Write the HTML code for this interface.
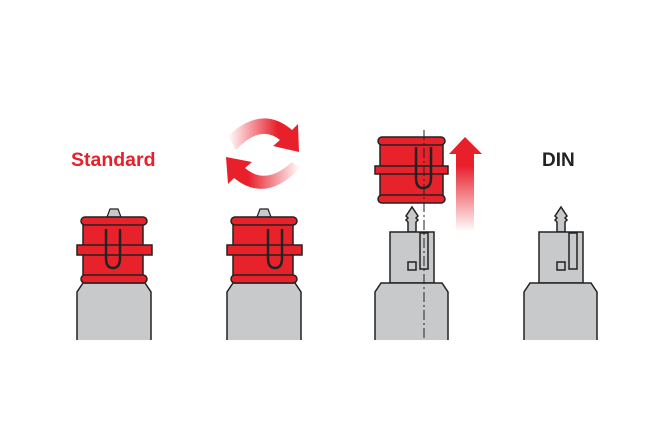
<!DOCTYPE html>
<html><head><style>html,body{margin:0;padding:0;background:#fff}svg{display:block}</style></head>
<body>
<svg width="668" height="445" viewBox="0 0 668 445" xmlns="http://www.w3.org/2000/svg">
<defs>
<linearGradient id="g1" x1="0" y1="0" x2="1" y2="0"><stop offset="0" stop-color="#e8202b" stop-opacity="0"/><stop offset="0.7" stop-color="#e8202b"/></linearGradient>
<linearGradient id="g2" x1="1" y1="0" x2="0" y2="0"><stop offset="0" stop-color="#e8202b" stop-opacity="0"/><stop offset="0.7" stop-color="#e8202b"/></linearGradient>
<linearGradient id="g3" x1="0" y1="1" x2="0" y2="0"><stop offset="0" stop-color="#e8202b" stop-opacity="0"/><stop offset="0.7" stop-color="#e8202b"/></linearGradient>
<g id="cap" stroke="#222" stroke-width="1.5">
<rect x="83" y="222" width="60" height="56" fill="#e8222b"/>
<rect x="81" y="217" width="66" height="8" rx="4" fill="#e8222b"/>
<rect x="77" y="245" width="75" height="10" fill="#e8222b"/>
<rect x="81" y="275" width="66" height="8" rx="4" fill="#e8222b"/>
</g>
<g id="lower" stroke="#222" stroke-width="1.5" fill="#c8c9cb">
<path d="M77 340 V292 L83 283 H145 L151 292 V340"/>
</g>
</defs>
<text x="71" y="166" font-family="Liberation Sans, sans-serif" font-weight="bold" font-size="19.5" fill="#e8202b">Standard</text>
<text x="542" y="166" font-family="Liberation Sans, sans-serif" font-weight="bold" font-size="19" fill="#222">DIN</text>

<!-- fig1 -->
<path d="M107 217 L110 209 L118 209 L121 217Z" fill="#c8c9cb" stroke="#222" stroke-width="1.2"/>
<use href="#lower"/>
<use href="#cap"/>
<path d="M106 229 V258 Q106 268 113 268 Q120 268 120 258 V229" fill="none" stroke="#222" stroke-width="2.5"/>

<!-- fig2 -->
<g transform="translate(150,0)">
<path d="M107 217 L110 209 L118 209 L121 217Z" fill="#c8c9cb" stroke="#222" stroke-width="1.2"/>
<use href="#lower"/>
<use href="#cap"/>
<path d="M118 229 V258 Q118 268 125 268 Q132 268 132 258 V229" fill="none" stroke="#222" stroke-width="2.5"/>
</g>

<!-- rotate arrows -->
<path d="M228 136 Q262 104 292 130 L298 124 L299 152 L273 146 L280 140 Q260 124 236 150Z" fill="url(#g1)"/>
<path d="M300 168 Q266 204 234 178 L228 184 L226 157 L252 162 L245 168 Q266 186 292 162Z" fill="url(#g2)"/>

<!-- fig3 -->
<g stroke="#222" stroke-width="1.5">
<rect x="380" y="142" width="63" height="56" fill="#e8222b"/>
<rect x="378" y="137" width="67" height="8" rx="4" fill="#e8222b"/>
<rect x="375" y="166" width="73" height="8" fill="#e8222b"/>
<rect x="378" y="195" width="67" height="8" rx="4" fill="#e8222b"/>
</g>
<path d="M416 147 V178 Q416 188 423 188 Q431 188 431 178 V147" fill="none" stroke="#222" stroke-width="2.5"/>
<path d="M456 232 V154 H449 L465 137 L482 154 H474 V232Z" fill="url(#g3)"/>
<g id="pinblock" stroke="#222" stroke-width="1.5" fill="#c8c9cb">
<path d="M408 232 V222 L406 220 L408 218 L406 216 L412 207 L418 216 L416 218 L418 220 L416 222 V232Z"/>
<rect x="390" y="232" width="44" height="51"/>
<rect x="420" y="233" width="8" height="36" fill="#c8c9cb"/>
<rect x="408" y="262" width="8" height="8"/>
<path d="M375 340 V292 L381 283 H442 L448 292 V340"/>
</g>
<line x1="424" y1="130" x2="424" y2="340" stroke="#222" stroke-width="1" stroke-dasharray="10,3,2,3"/>

<!-- fig4 -->
<g transform="translate(149,0)">
<use href="#pinblock"/>
</g>
</svg>
</body></html>
